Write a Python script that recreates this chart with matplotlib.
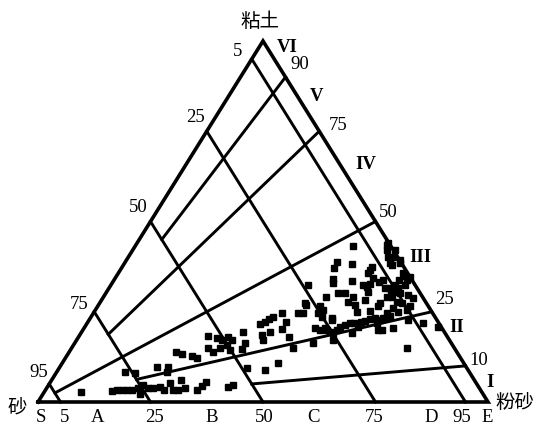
import numpy as np
import matplotlib.pyplot as plt

# sediment samples, silt % and clay % (sand = 100 - silt - clay)
silt = [8.2, 14.9, 15.9, 17.0, 18.1, 19.2, 20.3, 21.0, 22.5, 23.6,
        25.0, 26.3, 26.7, 28.3, 29.4, 30.7, 21.6, 15.2, 17.5, 21.6,
        24.0, 24.5, 23.7, 25.4, 28.7, 27.9, 29.2, 33.7, 34.2, 34.6,
        40.1, 41.0,
        28.6, 30.9, 32.3, 33.2, 34.5, 34.1, 33.0, 32.0, 30.3, 35.5,
        35.9, 37.8, 38.0, 38.5, 39.4, 39.8, 40.4, 41.9, 44.0, 45.5,
        46.1, 41.9, 40.5, 41.4, 44.1, 46.8, 49.2, 41.7, 46.0, 47.9,
        52.9, 43.8,
        48.4, 47.1, 47.2, 50.7, 48.5, 49.1, 53.0, 55.5, 55.5, 59.2,
        56.0, 57.4, 58.1, 58.5, 51.6, 53.1, 49.5, 55.5, 55.0, 57.0,
        58.4, 45.6, 49.4, 50.6, 49.9, 51.3, 53.7, 61.2, 62.3, 63.0,
        62.4, 63.1, 56.5, 57.7, 59.0, 55.8, 51.3, 52.7, 53.5, 55.2,
        56.0, 56.5, 56.7, 57.6, 58.4, 59.3, 60.7, 60.7, 61.4, 62.3,
        63.3, 64.6, 65.0, 66.3, 60.2, 65.6, 57.0, 46.6,
        55.8, 58.3, 58.8, 61.2, 63.2, 65.1, 65.4, 65.4, 64.2, 64.1,
        65.3, 67.4, 68.9, 64.1, 65.9, 67.2, 65.9, 65.2, 67.5, 69.3,
        69.4, 59.8, 61.3, 70.9, 68.6, 74.6, 78.5, 74.5, 66.5, 54.0,
        57.3, 63.9, 63.3, 55.5, 57.2, 62.3, 65.8, 64.4, 54.2, 59.7,
        60.8, 62.9]
clay = [2.8, 3.0, 3.3, 3.3, 3.3, 3.3, 3.9, 4.7, 3.9, 3.9,
        4.2, 3.3, 5.3, 3.3, 3.3, 3.9, 2.2, 8.3, 8.0, 9.7,
        9.7, 8.3, 13.9, 13.3, 6.1, 12.7, 12.2, 3.3, 4.4, 5.5,
        4.2, 4.7,
        18.3, 17.7, 17.2, 18.0, 17.2, 15.8, 15.0, 13.9, 15.0, 14.4,
        19.4, 16.3, 14.7, 21.6, 22.2, 23.0, 23.6, 24.7, 22.2, 24.7,
        26.9, 19.4, 18.6, 17.2, 20.2, 18.0, 15.0, 9.4, 8.9, 10.8,
        16.3, 32.4,
        43.2, 38.8, 37.1, 38.2, 34.1, 33.0, 33.5, 37.4, 35.7, 33.2,
        32.4, 32.7, 30.5, 28.3, 30.2, 30.2, 29.1, 29.1, 27.7, 26.9,
        24.9, 27.4, 26.6, 25.5, 24.7, 23.6, 23.3, 25.2, 27.4, 29.1,
        31.6, 32.4, 42.1, 40.2, 38.5, 43.5, 20.5, 19.9, 20.5, 19.4,
        19.1, 19.9, 20.8, 21.3, 21.9, 21.9, 20.8, 22.2, 22.4, 23.0,
        23.3, 22.7, 23.3, 23.8, 19.1, 19.9, 17.2, 24.7,
        44.0, 42.1, 40.2, 38.5, 35.7, 33.8, 32.4, 34.6, 31.6, 30.5,
        30.2, 29.6, 28.8, 29.1, 27.7, 27.4, 26.0, 24.7, 24.9, 25.5,
        26.6, 33.8, 31.6, 22.7, 20.5, 21.9, 20.8, 15.0, 19.9, 22.7,
        34.4, 34.9, 33.8, 36.6, 31.9, 26.6, 23.6, 21.9, 19.9, 38.0,
        39.3, 31.0]

# classification lines
sand_lines = [95, 75, 50, 25, 5]         # constant sand %
ratio_lines = [90, 75, 50, 25, 10]       # clay share of the fines, %
ratio_stop = [50, 75, 95, 75, 50]        # sand % where each ratio line stops

left_labels = ['95', '75', '50', '25', '5']
right_labels = ['90', '75', '50', '25', '10']
classes = ['VI', 'V', 'IV', 'III', 'II', 'I']
base_labels = ['S', '5', 'A', '25', 'B', '50', 'C', '75', 'D', '95', 'E']


def tern(si, cl):
    # silt/clay percentages -> plane coordinates of the triangle
    si = np.asarray(si, dtype=float)
    cl = np.asarray(cl, dtype=float)
    return si + cl / 2, cl


plt.rcParams['font.family'] = ['Liberation Serif', 'DejaVu Serif']
cjk = ['Noto Sans CJK SC', 'DejaVu Sans']

fig = plt.figure(figsize=(5.36, 4.26), dpi=100)
ax = fig.add_axes([38 / 536, 24 / 426, 450 / 536, 361 / 426])
ax.set_xlim(0, 100)
ax.set_ylim(0, 100)
ax.axis('off')

lw_edge = 2.6
lw_in = 2.1

# outer triangle
x, y = tern([0, 100, 0, 0], [0, 0, 100, 0])
ax.plot(x, y, color='black', lw=lw_edge, solid_joinstyle='miter', clip_on=False)

# constant sand lines
for s in sand_lines:
    x, y = tern([0, 100 - s], [100 - s, 0])
    ax.plot(x, y, color='black', lw=lw_in, clip_on=False)

# clay/silt ratio lines
for r, s in zip(ratio_lines, ratio_stop):
    f = 100 - s
    x, y = tern([100 - r, f * (100 - r) / 100], [r, f * r / 100])
    ax.plot(x, y, color='black', lw=lw_in, clip_on=False)

# samples
x, y = tern(silt, clay)
ax.plot(x, y, 's', color='black', ms=4.2, mec='black', clip_on=False)

fs = 13.5
# left edge labels
left_pos = [(0.2, 8.3), (9.1, 26.9), (22.2, 54.0), (34.9, 78.9), (44.4, 97.0)]
for lab, (px, py) in zip(left_labels, left_pos):
    ax.text(px, py, lab, fontsize=fs, ha='center', va='center')

# right edge labels
right_pos = [(58.2, 93.4), (66.7, 76.7), (77.8, 52.6), (90.4, 28.3), (98.0, 11.6)]
for lab, (px, py) in zip(right_labels, right_pos):
    ax.text(px, py, lab, fontsize=fs, ha='center', va='center')

class_pos = [(55.3, 98.3), (62.0, 84.5), (72.9, 65.7), (84.9, 39.9),
             (93.1, 20.5), (100.4, 5.3)]
for lab, (px, py) in zip(classes, class_pos):
    ax.text(px, py, lab, fontsize=fs, ha='center', va='center', fontweight='bold')

# base labels
base_x = [0.7, 6.0, 13.3, 25.8, 38.7, 50.2, 61.3, 74.7, 87.3, 94.2, 99.8]
for lab, px in zip(base_labels, base_x):
    ax.text(px, -4.4, lab, fontsize=fs, ha='center', va='center')

ax.text(49.3, 105.3, '粘土', fontsize=14, ha='center', va='center', family=cjk)
ax.text(-4.7, -1.4, '砂', fontsize=14, ha='center', va='center', family=cjk)
ax.text(106.0, 0.0, '粉砂', fontsize=14, ha='center', va='center', family=cjk)

fig.savefig('out.png', dpi=100)
